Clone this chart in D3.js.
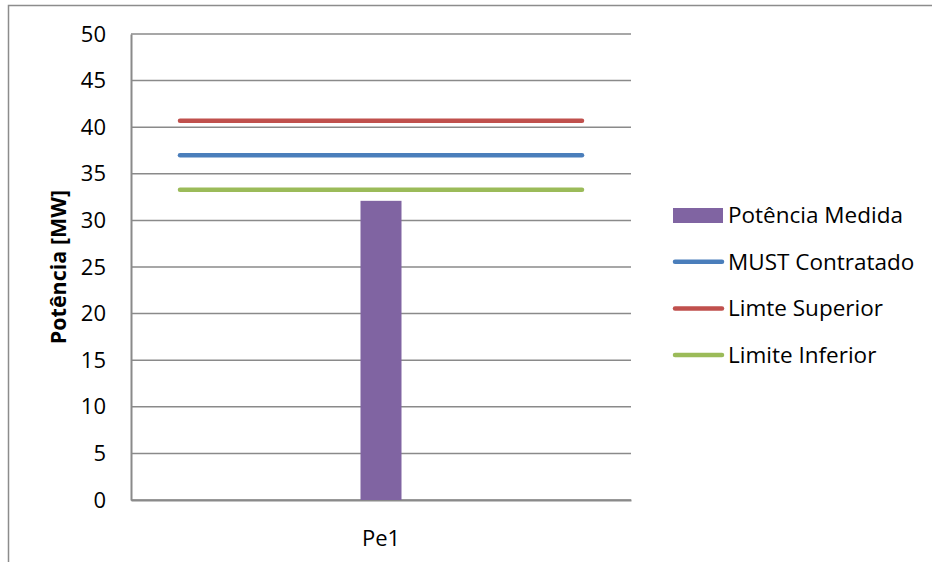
<!DOCTYPE html>
<html>
<head>
<meta charset="utf-8">
<script src="https://cdn.jsdelivr.net/npm/d3@7"></script>
<style>
  body { margin: 0; background: #fff; }
  text { font-family: "Open Sans", sans-serif; fill: #000; }
</style>
</head>
<body>
<div id="chart"></div>
<script>
// data
let categories = ["Pe1"];
let medida = [32.1];        // Potência Medida
let mustContratado = [37];  // MUST Contratado
let limSuperior = [40.7];   // Limte Superior
let limInferior = [33.3];   // Limite Inferior
let yTicks = [0, 5, 10, 15, 20, 25, 30, 35, 40, 45, 50];

let width = 932;
let height = 562;
let plot = {left: 131, top: 34, right: 631, bottom: 500};

let svg = d3.select("#chart").append("svg")
    .attr("width", width)
    .attr("height", height);

// outer chart border (cut off at right/bottom like the source)
svg.append("path")
    .attr("d", "M8.5," + height + " V5.5 H" + width)
    .attr("fill", "none")
    .attr("stroke", "#8c8c8c")
    .attr("stroke-width", 1.5);

let xscale = d3.scaleBand()
    .domain(categories)
    .range([plot.left, plot.right]);

let yscale = d3.scaleLinear()
    .domain([0, 50])
    .range([plot.bottom, plot.top]);

// gridlines
svg.append("g").selectAll("line").data(yTicks).enter().append("line")
    .attr("x1", plot.left)
    .attr("x2", plot.right)
    .attr("y1", d => yscale(d))
    .attr("y2", d => yscale(d))
    .attr("stroke", "#8a8a8a")
    .attr("stroke-width", 1.5);

// y axis
let yAxis = svg.append("g")
    .attr("transform", "translate(" + plot.left + ",0)")
    .call(d3.axisLeft(yscale).tickValues(yTicks).tickSize(0).tickPadding(25));
yAxis.select(".domain").attr("stroke", "#8a8a8a").attr("stroke-width", 2);
yAxis.selectAll("text").style("font-size", "22px").style("font-family", "Open Sans").attr("fill", "#000");

// x axis
let xAxis = svg.append("g")
    .attr("transform", "translate(0," + plot.bottom + ")")
    .call(d3.axisBottom(xscale).tickSize(0).tickPadding(30));
xAxis.select(".domain").attr("stroke", "#8a8a8a").attr("stroke-width", 2);
xAxis.selectAll("text").style("font-size", "22px").style("font-family", "Open Sans").attr("fill", "#000");

// y axis title
svg.append("text")
    .attr("transform", "translate(" + 66 + "," + 267 + ") rotate(-90)")
    .style("text-anchor", "middle")
    .style("font-size", "21.5px")
    .style("font-weight", "bold")
    .text("Potência [MW]");

// bar
let bw = xscale.bandwidth();
let barW = bw * 0.082;
svg.append("g").selectAll("rect").data(medida).enter().append("rect")
    .attr("x", (d, i) => xscale(categories[i]) + bw / 2 - barW / 2)
    .attr("y", d => yscale(d))
    .attr("width", barW)
    .attr("height", d => yscale(0) - yscale(d))
    .attr("fill", "#8064a2");

// horizontal series lines
let series = [
    {name: "MUST Contratado", values: mustContratado, color: "#4a7ebb"},
    {name: "Limte Superior", values: limSuperior, color: "#c0504d"},
    {name: "Limite Inferior", values: limInferior, color: "#9bbb59"}
];

let inset = bw * 0.098;
series.forEach(s => {
    svg.append("g").selectAll("line").data(s.values).enter().append("line")
        .attr("x1", (d, i) => xscale(categories[i]) + inset)
        .attr("x2", (d, i) => xscale(categories[i]) + bw - inset)
        .attr("y1", d => yscale(d))
        .attr("y2", d => yscale(d))
        .attr("stroke", s.color)
        .attr("stroke-width", 4.5)
        .attr("stroke-linecap", "round");
});

// legend
let legend = svg.append("g").attr("transform", "translate(673,215)");
let rowH = 46.7;

legend.append("rect")
    .attr("x", 0).attr("y", -7)
    .attr("width", 50).attr("height", 15)
    .attr("fill", "#8064a2");
legend.append("text")
    .attr("x", 55).attr("y", 0)
    .attr("dy", "0.35em")
    .style("font-size", "22.5px")
    .text("Potência Medida");

series.forEach((s, i) => {
    let y = rowH * (i + 1);
    legend.append("line")
        .attr("x1", 2).attr("x2", 49)
        .attr("y1", y).attr("y2", y)
        .attr("stroke", s.color)
        .attr("stroke-width", 4.5)
        .attr("stroke-linecap", "round");
    legend.append("text")
        .attr("x", 55).attr("y", y)
        .attr("dy", "0.35em")
        .style("font-size", "22.5px")
        .text(s.name);
});
</script>
</body>
</html>
